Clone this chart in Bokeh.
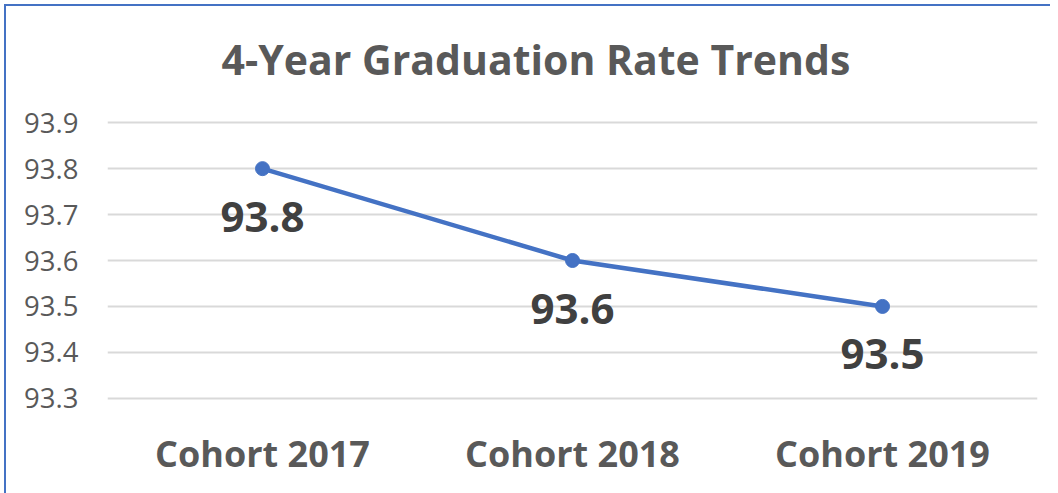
from bokeh.plotting import figure
from bokeh.models import ColumnDataSource, FactorRange, Range1d, FixedTicker
from bokeh.core.properties import value
from bokeh.embed import file_html
from bokeh.resources import INLINE

categories = ["Cohort 2017", "Cohort 2018", "Cohort 2019"]
rates = [93.8, 93.6, 93.5]
rate_labels = ["93.8", "93.6", "93.5"]
y_ticks = [93.3, 93.4, 93.5, 93.6, 93.7, 93.8, 93.9]
y_tick_labels = ["93.3", "93.4", "93.5", "93.6", "93.7", "93.8", "93.9"]
title_text = "4-Year Graduation Rate Trends"

FONT = "Open Sans"
BLUE = "#4472C4"
GRAY = "#595959"

src = ColumnDataSource(dict(x=categories, y=rates, lab=rate_labels))

p = figure(
    width=1050, height=493,
    x_range=FactorRange(*categories, range_padding=0),
    y_range=Range1d(93.28, 93.92),
    output_backend="svg", toolbar_location=None,
    min_border_left=107, min_border_right=13,
    min_border_top=113, min_border_bottom=86,
)
p.outline_line_color = None
p.background_fill_color = "white"
p.border_fill_alpha = 0
p.stylesheets = [
    ":host { background: "
    "linear-gradient(#4472C4, #4472C4) 4px 4px / 100% 2px no-repeat, "
    "linear-gradient(#4472C4, #4472C4) 4px 4px / 2px 100% no-repeat, white; }"
]

p.title.text = title_text
p.title.text_font = FONT
p.title.text_font_size = "41px"
p.title.text_font_style = "bold"
p.title.text_color = GRAY
p.title.align = "left"
p.title.offset = 114
p.title.standoff = 54

# y axis
p.yaxis.ticker = FixedTicker(ticks=y_ticks)
p.yaxis.major_label_overrides = {t: l for t, l in zip(y_ticks, y_tick_labels)}
p.yaxis.axis_line_color = None
p.yaxis.major_tick_line_color = None
p.yaxis.minor_tick_line_color = None
p.yaxis.major_label_text_font = FONT
p.yaxis.major_label_text_font_size = "27.5px"
p.yaxis.major_label_text_color = GRAY
p.yaxis.major_label_standoff = 23

# x axis
p.xaxis.axis_line_color = None
p.xaxis.major_tick_line_color = None
p.xaxis.major_label_text_font = FONT
p.xaxis.major_label_text_font_size = "36px"
p.xaxis.major_label_text_font_style = "bold"
p.xaxis.major_label_text_color = GRAY
p.xaxis.major_label_standoff = 15

p.xgrid.grid_line_color = None
p.ygrid.grid_line_color = "#D9D9D9"
p.ygrid.grid_line_width = 2

p.line("x", "y", source=src, line_color=BLUE, line_width=4.5)
p.scatter("x", "y", source=src, size=14, fill_color=BLUE, line_color=BLUE)
p.text("x", "y", text="lab", source=src, text_font=value(FONT),
       text_font_size="42px", text_font_style="bold", text_color="#404040",
       text_align="center", text_baseline="middle", y_offset=48)

open("out.html", "w").write(file_html(p, INLINE))
